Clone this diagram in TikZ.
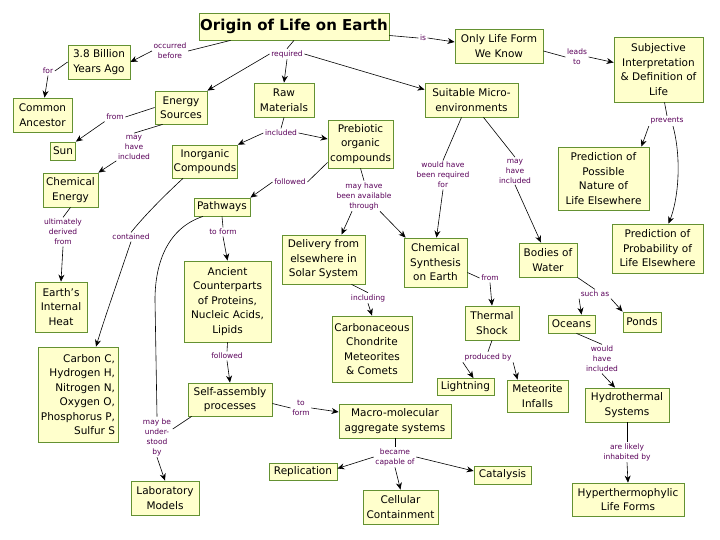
\documentclass[tikz,border=0pt]{standalone}
\usepackage{fontspec}
\setmainfont{DejaVu Sans}
\usetikzlibrary{arrows.meta}
\definecolor{boxfill}{RGB}{255,255,204}
\definecolor{boxline}{RGB}{100,145,50}
\definecolor{lblcol}{RGB}{90,0,90}
\begin{document}
\begin{tikzpicture}[x=1pt,y=-1pt,
  cbox/.style={draw=boxline, fill=boxfill, line width=0.8pt, align=center, inner sep=1pt,
    font=\fontsize{10.5}{14.5}\selectfont},
  lbl/.style={text=lblcol, align=center, inner sep=1.5pt, font=\fontsize{7.5}{10}\selectfont},
  link/.style={line width=0.6pt, draw=black},
  arr/.style={link, -{Stealth[length=7pt,width=6pt]}},
]
\path[use as bounding box, fill=white] (0,0) rectangle (720,540);

% ---------- concept boxes ----------
\node[cbox, minimum width=190pt, minimum height=27pt, font=\bfseries\fontsize{15}{18}\selectfont] (title) at (294,26.5) {Origin of Life on Earth};
\node[cbox, minimum width=62pt, minimum height=34pt] (bil) at (99,62) {3.8 Billion\\Years Ago};
\node[cbox, minimum width=59pt, minimum height=34pt] (anc) at (42.5,115) {Common\\Ancestor};
\node[cbox, minimum width=52pt, minimum height=33pt] (energy) at (181,107.5) {Energy\\Sources};
\node[cbox, minimum width=25pt, minimum height=18pt] (sun) at (63,151) {Sun};
\node[cbox, minimum width=55pt, minimum height=34pt] (chemE) at (70.5,190) {Chemical\\Energy};
\node[cbox, minimum width=52pt, minimum height=50pt] (heat) at (61,307) {Earth's\\Internal\\Heat};
\node[cbox, minimum width=80pt, minimum height=95pt, align=right] (carbon) at (78,394.5) {Carbon C,\\Hydrogen H,\\Nitrogen N,\\Oxygen O,\\Phosphorus P,\\Sulfur S};
\node[cbox, minimum width=65pt, minimum height=33pt] (inorg) at (205,161.5) {Inorganic\\Compounds};
\node[cbox, minimum width=56pt, minimum height=18pt] (path) at (222,207) {Pathways};
\node[cbox, minimum width=87pt, minimum height=81pt] (ancient) at (227.5,301.5) {Ancient\\Counterparts\\of Proteins,\\Nucleic Acids,\\Lipids};
\node[cbox, minimum width=60pt, minimum height=34pt] (raw) at (284,100) {Raw\\Materials};
\node[cbox, minimum width=65pt, minimum height=48pt] (preb) at (360.5,144) {Prebiotic\\organic\\compounds};
\node[cbox, minimum width=88pt, minimum height=34pt] (only) at (499,46) {Only Life Form\\We Know};
\node[cbox, minimum width=93pt, minimum height=34pt] (suit) at (471.5,100) {Suitable Micro-\\environments};
\node[cbox, minimum width=89pt, minimum height=65pt] (subj) at (658.5,69.5) {Subjective\\Interpretation\\\& Definition of\\Life};
\node[cbox, minimum width=91pt, minimum height=63pt] (predP) at (603.5,178.5) {Prediction of\\Possible\\Nature of\\Life Elsewhere};
\node[cbox, minimum width=91pt, minimum height=49pt] (predQ) at (657.5,248.5) {Prediction of\\Probability of\\Life Elsewhere};
\node[cbox, minimum width=58pt, minimum height=34pt] (bodies) at (548,260) {Bodies of\\Water};
\node[cbox, minimum width=63pt, minimum height=49pt] (chemS) at (435.5,262.5) {Chemical\\Synthesis\\on Earth};
\node[cbox, minimum width=83pt, minimum height=49pt] (deliv) at (323.5,259.5) {Delivery from\\elsewhere in\\Solar System};
\node[cbox, minimum width=80pt, minimum height=66pt] (carbo) at (372,349) {Carbonaceous\\Chondrite\\Meteorites\\\& Comets};
\node[cbox, minimum width=54pt, minimum height=34pt] (thermal) at (492,323) {Thermal\\Shock};
\node[cbox, minimum width=47pt, minimum height=18pt] (oceans) at (571.5,324) {Oceans};
\node[cbox, minimum width=38pt, minimum height=20pt] (ponds) at (642,322) {Ponds};
\node[cbox, minimum width=57pt, minimum height=17pt] (light) at (465.5,387) {Lightning};
\node[cbox, minimum width=61pt, minimum height=32pt] (meteor) at (537.5,396) {Meteorite\\Infalls};
\node[cbox, minimum width=84pt, minimum height=34pt] (hydro) at (627,405) {Hydrothermal\\Systems};
\node[cbox, minimum width=112pt, minimum height=33pt] (hyper) at (628,499.5) {Hyperthermophylic\\Life Forms};
\node[cbox, minimum width=57pt, minimum height=18pt] (catal) at (502.5,475) {Catalysis};
\node[cbox, minimum width=112pt, minimum height=34pt] (macro) at (395,421) {Macro-molecular\\aggregate systems};
\node[cbox, minimum width=68pt, minimum height=17pt] (repl) at (303,471.5) {Replication};
\node[cbox, minimum width=75pt, minimum height=34pt] (cell) at (400.5,507) {Cellular\\Containment};
\node[cbox, minimum width=84pt, minimum height=33pt] (self) at (230,399.5) {Self-assembly\\processes};
\node[cbox, minimum width=68pt, minimum height=34pt] (lab) at (165,498) {Laboratory\\Models};

% ---------- linking phrases ----------
\node[lbl] (occ) at (170,51) {occurred\\before};
\node[lbl] (for1) at (48,71) {for};
\node[lbl] (req) at (287,54) {required};
\node[lbl] (is) at (423,38) {is};
\node[lbl] (leads) at (577,57) {leads\\to};
\node[lbl] (prev) at (667,121) {prevents};
\node[lbl] (from1) at (115,117) {from};
\node[lbl] (mhi1) at (134,147) {may\\have\\included};
\node[lbl] (incl) at (281,133) {included};
\node[lbl] (fol1) at (290,182) {followed};
\node[lbl] (mhb) at (364,196) {may have\\been available\\through};
\node[lbl] (wrq) at (443,175) {would have\\been required\\for};
\node[lbl] (mhi2) at (515,171) {may\\have\\included};
\node[lbl] (ult) at (63,232) {ultimately\\derived\\from};
\node[lbl] (cont) at (131,237) {contained};
\node[lbl] (tf1) at (223,232) {to form};
\node[lbl] (und) at (157,437) {may be\\under-\\stood\\by};
\node[lbl] (fol2) at (227,356) {followed};
\node[lbl] (tf2) at (301,408) {to\\form};
\node[lbl] (bcap) at (395,457) {became\\capable of};
\node[lbl] (inc) at (368,298) {including};
\node[lbl] (from2) at (490,278) {from};
\node[lbl] (prod) at (488,357) {produced by};
\node[lbl] (such) at (595,294) {such as};
\node[lbl] (whi) at (602,359) {would\\have\\included};
\node[lbl] (ali) at (627,452) {are likely\\inhabited by};

% ---------- connectors ----------
\draw[link] ([xshift=32pt]title.south west) -- (occ.east);
\draw[arr] (occ.west) -- (bil.east);
\draw[link] (bil.west) -- (for1.east);
\draw[arr] (for1.south) -- ([xshift=2pt]anc.north);
\draw[link] (title.south) -- (req.north);
\draw[arr] (req.west) -- (energy.north east);
\draw[arr] (req.south) -- (raw.north);
\draw[arr] (req.east) -- ([yshift=-7pt]suit.north west);
\draw[link] ([yshift=-9pt]title.east) -- (is.west);
\draw[arr] (is.east) -- ([yshift=4pt]only.west);
\draw[link] ([yshift=-5pt]only.east) -- (leads.west);
\draw[arr] (leads.east) -- ([yshift=7pt]subj.west);
\draw[link] ([xshift=6pt]subj.south) -- (prev.north);
\draw[arr] (prev.south west) -- ([xshift=-8pt]predP.north east);
\draw[arr] ([xshift=6pt]prev.south) .. controls (682,160) and (678,200) .. ([xshift=11pt]predQ.north);
\draw[link] (energy.west) -- (from1.east);
\draw[arr] (from1.south west) -- (sun.north east);
\draw[link] ([xshift=8pt]energy.south west) -- (mhi1.north);
\draw[arr] (mhi1.south west) -- (chemE.north east);
\draw[link] (raw.south) -- (incl.north);
\draw[arr] (incl.west) -- (inorg.north east);
\draw[arr] (incl.east) -- ([yshift=5pt]preb.west);
\draw[link] ([yshift=6pt]preb.south west) -- (fol1.east);
\draw[arr] (fol1.west) -- (path.north east);
\draw[link] (preb.south) -- (mhb.north);
\draw[arr] ([xshift=-12pt]mhb.south) -- ([xshift=18pt]deliv.north);
\draw[arr] ([xshift=16pt]mhb.south) -- ([xshift=2pt]chemS.north west);
\draw[link] ([xshift=-10pt]suit.south) -- (wrq.north);
\draw[arr] (wrq.south) -- ([xshift=1pt]chemS.north);
\draw[link] ([xshift=12pt]suit.south) -- (mhi2.north);
\draw[arr] (mhi2.south) -- ([xshift=-7pt]bodies.north);
\draw[link] (chemE.south) -- (ult.north);
\draw[arr] (ult.south) -- (heat.north);
\draw[link] ([xshift=-22pt]inorg.south) .. controls (165,195) and (145,215) .. (cont.north);
\draw[arr] (cont.south) .. controls (118,280) and (104,320) .. ([xshift=18pt]carbon.north);
\draw[link] (path.south) -- (tf1.north);
\draw[arr] (tf1.south) -- (ancient.north);
\draw[link] ([xshift=-19pt]path.south) .. controls (168,228) and (155,262) .. (155,300) -- (und.north);
\draw[link] ([xshift=4pt]self.south west) -- ([yshift=8pt]und.east);
\draw[arr] (und.south) -- (lab.north);
\draw[link] (ancient.south) -- (fol2.north);
\draw[arr] (fol2.south) -- (self.north);
\draw[link] ([yshift=-4pt]self.east) -- (tf2.west);
\draw[arr] (tf2.east) -- ([yshift=9pt]macro.west);
\draw[link] (macro.south) -- (bcap.north);
\draw[arr] (bcap.west) -- ([yshift=3pt]repl.east);
\draw[arr] (bcap.south) -- (cell.north);
\draw[arr] (bcap.east) -- ([yshift=4pt]catal.west);
\draw[link] ([xshift=28pt]deliv.south) -- (inc.north);
\draw[arr] (inc.south) -- (carbo.north);
\draw[link] ([yshift=-10pt]chemS.east) -- (from2.west);
\draw[arr] (from2.south) -- (thermal.north);
\draw[link] (thermal.south) -- (prod.north);
\draw[arr] (prod.south west) -- ([xshift=8pt]light.north);
\draw[arr] (prod.south east) -- ([xshift=-20pt]meteor.north);
\draw[link] (bodies.south east) -- (such.north);
\draw[arr] (such.south west) -- ([xshift=10pt]oceans.north);
\draw[arr] (such.south east) -- (ponds.north west);
\draw[link] ([xshift=5pt]oceans.south) -- (whi.north);
\draw[arr] (whi.south) -- ([xshift=-12pt]hydro.north);
\draw[link] (hydro.south) -- (ali.north);
\draw[arr] (ali.south) -- (hyper.north);
\end{tikzpicture}
\end{document}
